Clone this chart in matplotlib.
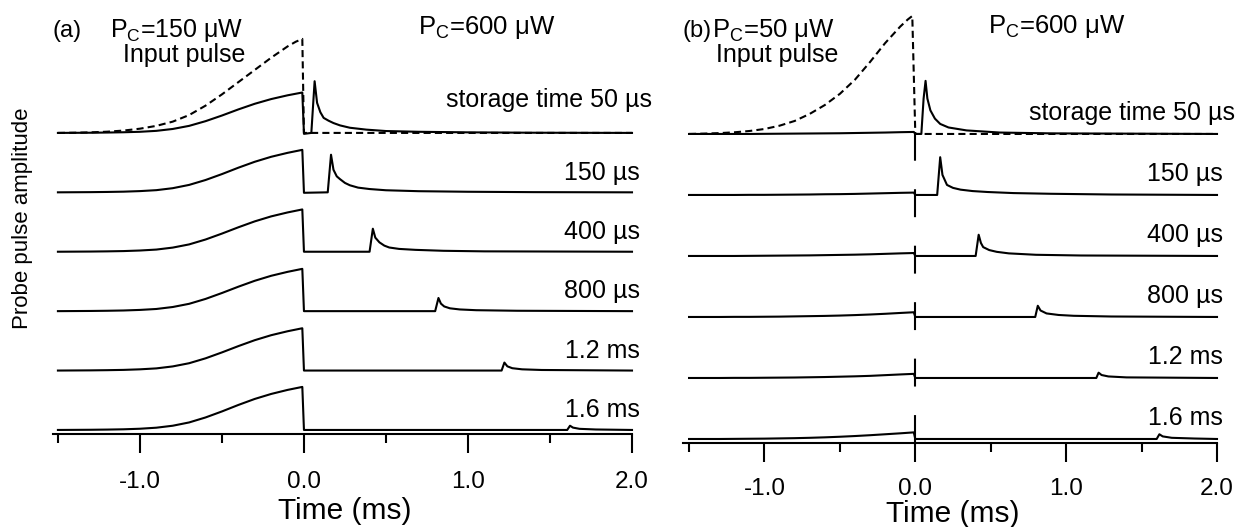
import matplotlib
matplotlib.use("Agg")
import matplotlib.pyplot as plt
from matplotlib.ticker import MultipleLocator, FormatStrFormatter

plt.rcParams['font.family'] = ['Liberation Sans', 'DejaVu Sans']
plt.rcParams['mathtext.fontset'] = 'custom'
plt.rcParams['mathtext.rm'] = 'Liberation Sans'
plt.rcParams['mathtext.it'] = 'Liberation Sans:italic'

# storage times, top trace first
labels = ['storage time 50 \u00b5s', '150 \u00b5s', '400 \u00b5s', '800 \u00b5s', '1.2 ms', '1.6 ms']

# common time grid for the part of each trace before the control field is switched off (ms)
pre_t = [-1.5, -1.4, -1.3, -1.2, -1.1, -1.0, -0.9, -0.8, -0.7, -0.6, -0.5, -0.4, -0.3, -0.2, -0.1, -0.01]

# ---- panel (a): P_C = 150 uW while writing, amplitudes relative to input pulse peak
a_input_t = [-1.5, -1.4, -1.3, -1.2, -1.1, -1.0, -0.9, -0.8, -0.7, -0.6, -0.5, -0.4, -0.3, -0.2,
             -0.1, -0.05, -0.01, 0.0, 2.0]
a_input_v = [0.0, 0.002, 0.006, 0.013, 0.025, 0.045, 0.075, 0.12, 0.19, 0.29, 0.41, 0.54, 0.67, 0.80,
             0.92, 0.97, 1.0, 0.0, 0.0]

a_pre = [
    [0.0, 0.001, 0.002, 0.004, 0.007, 0.012, 0.022, 0.042, 0.075, 0.125, 0.185, 0.250, 0.310, 0.360, 0.400, 0.430],
    [0.0, 0.001, 0.002, 0.004, 0.007, 0.013, 0.023, 0.044, 0.079, 0.131, 0.194, 0.262, 0.325, 0.378, 0.420, 0.452],
    [0.0, 0.001, 0.002, 0.004, 0.007, 0.013, 0.023, 0.044, 0.078, 0.130, 0.193, 0.260, 0.323, 0.376, 0.418, 0.450],
    [0.0, 0.001, 0.002, 0.004, 0.007, 0.013, 0.023, 0.044, 0.078, 0.130, 0.193, 0.260, 0.323, 0.376, 0.418, 0.450],
    [0.0, 0.001, 0.002, 0.004, 0.007, 0.013, 0.023, 0.044, 0.078, 0.130, 0.193, 0.260, 0.323, 0.376, 0.418, 0.450],
    [0.0, 0.001, 0.002, 0.004, 0.007, 0.013, 0.024, 0.045, 0.080, 0.133, 0.197, 0.266, 0.330, 0.383, 0.426, 0.458],
]
a_post_t = [
    [0.0, 0.045, 0.065, 0.08, 0.1, 0.12, 0.15, 0.18, 0.22, 0.28, 0.38, 0.5, 0.7, 1.0, 1.4, 2.0],
    [0.0, 0.145, 0.165, 0.18, 0.2, 0.22, 0.25, 0.28, 0.33, 0.4, 0.5, 0.7, 1.0, 1.4, 2.0],
    [0.0, 0.40, 0.42, 0.435, 0.46, 0.49, 0.52, 0.58, 0.68, 0.85, 1.1, 2.0],
    [0.0, 0.80, 0.82, 0.835, 0.855, 0.89, 0.95, 1.05, 1.3, 2.0],
    [0.0, 1.205, 1.222, 1.24, 1.27, 1.33, 1.45, 2.0],
    [0.0, 1.605, 1.622, 1.64, 1.68, 1.78, 2.0],
]
a_post_v = [
    [-0.01, 0.0, 0.55, 0.32, 0.22, 0.16, 0.13, 0.105, 0.08, 0.055, 0.035, 0.02, 0.012, 0.006, 0.002, 0.0],
    [-0.005, 0.0, 0.40, 0.24, 0.17, 0.14, 0.10, 0.075, 0.05, 0.035, 0.022, 0.012, 0.006, 0.002, 0.0],
    [0.0, 0.0, 0.245, 0.15, 0.10, 0.065, 0.045, 0.03, 0.02, 0.01, 0.004, 0.0],
    [0.0, 0.0, 0.14, 0.08, 0.05, 0.03, 0.018, 0.01, 0.004, 0.0],
    [0.0, 0.0, 0.085, 0.045, 0.025, 0.013, 0.006, 0.0],
    [0.0, 0.0, 0.045, 0.025, 0.012, 0.005, 0.0],
]

# ---- panel (b): P_C = 50 uW while writing
b_input_t = [-1.5, -1.4, -1.3, -1.2, -1.1, -1.0, -0.9, -0.8, -0.7, -0.6, -0.5, -0.4, -0.3, -0.2,
             -0.1, -0.05, -0.02, 0.0, 2.0]
b_input_v = [0.0, 0.003, 0.007, 0.014, 0.025, 0.042, 0.07, 0.11, 0.17, 0.245, 0.34, 0.46, 0.61, 0.77,
             0.91, 0.97, 1.0, 0.0, 0.0]

b_pre = [
    [0.0, 0.0, 0.0, 0.0, 0.0, 0.001, 0.002, 0.003, 0.004, 0.005, 0.006, 0.008, 0.010, 0.012, 0.015, 0.017],
    [0.0, 0.0, 0.0, 0.0, 0.001, 0.001, 0.002, 0.003, 0.004, 0.006, 0.007, 0.009, 0.012, 0.015, 0.018, 0.020],
    [0.0, 0.0, 0.0, 0.0, 0.001, 0.002, 0.003, 0.004, 0.005, 0.007, 0.009, 0.011, 0.014, 0.018, 0.022, 0.025],
    [0.0, 0.0, 0.0, 0.001, 0.001, 0.002, 0.003, 0.005, 0.007, 0.009, 0.012, 0.016, 0.021, 0.027, 0.034, 0.040],
    [0.0, 0.0, 0.0, 0.001, 0.001, 0.002, 0.003, 0.004, 0.006, 0.008, 0.011, 0.014, 0.018, 0.024, 0.030, 0.035],
    [0.0, 0.0, 0.0, 0.001, 0.002, 0.003, 0.005, 0.007, 0.010, 0.014, 0.019, 0.025, 0.032, 0.040, 0.048, 0.056],
]
b_post_t = [
    [0.0, 0.04, 0.055, 0.068, 0.08, 0.1, 0.13, 0.165, 0.22, 0.34, 0.56, 0.9, 2.0],
    [0.0, 0.145, 0.165, 0.18, 0.21, 0.25, 0.3, 0.38, 0.48, 0.65, 0.9, 1.3, 2.0],
    [0.0, 0.40, 0.42, 0.435, 0.45, 0.49, 0.54, 0.62, 0.8, 1.1, 2.0],
    [0.0, 0.795, 0.812, 0.83, 0.87, 0.95, 1.05, 1.3, 2.0],
    [0.0, 1.2, 1.215, 1.235, 1.28, 1.4, 2.0],
    [0.0, 1.6, 1.618, 1.64, 1.7, 1.85, 2.0],
]
b_post_v = [
    [0.0, 0.0, 0.30, 0.45, 0.30, 0.20, 0.13, 0.085, 0.055, 0.03, 0.012, 0.005, 0.0],
    [0.0, 0.0, 0.32, 0.17, 0.085, 0.06, 0.045, 0.033, 0.025, 0.016, 0.01, 0.004, 0.0],
    [0.0, 0.0, 0.18, 0.11, 0.075, 0.05, 0.035, 0.022, 0.01, 0.004, 0.0],
    [0.0, 0.0, 0.095, 0.055, 0.03, 0.017, 0.01, 0.004, 0.0],
    [0.0, 0.0, 0.045, 0.025, 0.013, 0.005, 0.0],
    [0.0, 0.0, 0.04, 0.022, 0.01, 0.004, 0.0],
]

W, H = 1239, 527
fig = plt.figure(figsize=(W / 100, H / 100), dpi=100)


def px_axes(left, right, bottom):
    # axes placed in figure pixels, reaching to the top edge
    return fig.add_axes([left / W, 1 - bottom / H, (right - left) / W, bottom / H])


def fig_text(x, y, s, **kw):
    fig.text(x / W, 1 - y / H, s, **kw)


def draw_panel(ax, xlim, ytop, base, spacing, input_t, input_v, pre, post_t, post_v,
               lab_x, lab_dy, store_x, store_dy, pad):
    ax.set_xlim(*xlim)
    ax.set_ylim(0, ytop)
    for k in range(6):
        y0 = base + (5 - k) * spacing
        t = pre_t + post_t[k]
        v = pre[k] + post_v[k]
        ax.plot(t, [y0 + x for x in v], color='black', lw=1.5, clip_on=False)
        if k == 0:
            ax.text(store_x, y0 + store_dy, labels[k], ha='right', va='center', fontsize=18)
        else:
            ax.text(lab_x, y0 + lab_dy, labels[k], ha='right', va='center', fontsize=18)
    top = base + 5 * spacing
    ax.plot(input_t, [top + x for x in input_v], color='black', lw=1.5,
            ls=(0, (3.4, 2.0)), clip_on=False)

    for s in ['left', 'top', 'right']:
        ax.spines[s].set_visible(False)
    ax.spines['bottom'].set_linewidth(1.5)
    ax.set_yticks([])
    ax.patch.set_visible(False)
    ax.xaxis.set_major_locator(MultipleLocator(1.0))
    ax.xaxis.set_minor_locator(MultipleLocator(0.5))
    ax.xaxis.set_major_formatter(FormatStrFormatter('%.1f'))
    ax.tick_params(axis='x', which='major', length=13.7, width=1.5, pad=pad, labelsize=17.5)
    ax.tick_params(axis='x', which='minor', length=6.5, width=1.5)
    return top


ax_a = px_axes(53, 632, 434)
draw_panel(ax_a, (-1.53, 2.0), 434 / 94, 0.043, 0.632,
           a_input_t, a_input_v, a_pre, a_post_t, a_post_v,
           2.05, 0.21, 2.12, 0.35, 13.0)

ax_b = px_axes(683, 1217, 443)
draw_panel(ax_b, (-1.54, 2.0), 443 / 118, 0.034, 0.517,
           b_input_t, b_input_v, b_pre, b_post_t, b_post_v,
           2.04, 0.18, 2.12, 0.18, 11.5)
# switching marker at t = 0 in panel (b)
ax_b.plot([0, 0], [0, 2.65], color='black', lw=1.5, ls=(0, (13.4, 13.7)), clip_on=False)

# panel annotations
fig_text(52, 31, '(a)', fontsize=17, va='center')
fig_text(110, 37, r'P$_\mathrm{C}$=150 $\mathrm{\mu}$W', fontsize=18, va='baseline')
fig_text(184, 62, 'Input pulse', fontsize=18, ha='center', va='baseline')
fig_text(418, 34, r'P$_\mathrm{C}$=600 $\mathrm{\mu}$W', fontsize=18.5, va='baseline')

fig_text(682, 31, '(b)', fontsize=17, va='center')
fig_text(712, 37, r'P$_\mathrm{C}$=50 $\mathrm{\mu}$W', fontsize=18.5, va='baseline')
fig_text(777, 62, 'Input pulse', fontsize=18, ha='center', va='baseline')
fig_text(988, 33, r'P$_\mathrm{C}$=600 $\mathrm{\mu}$W', fontsize=18.5, va='baseline')

fig_text(23, 218, 'Probe pulse amplitude', fontsize=16, rotation=90, ha='center', va='center')
fig_text(345, 511, 'Time (ms)', fontsize=21.5, ha='center', va='center')
fig_text(953, 514, 'Time (ms)', fontsize=21.5, ha='center', va='center')

fig.savefig('out.png', dpi=100)
